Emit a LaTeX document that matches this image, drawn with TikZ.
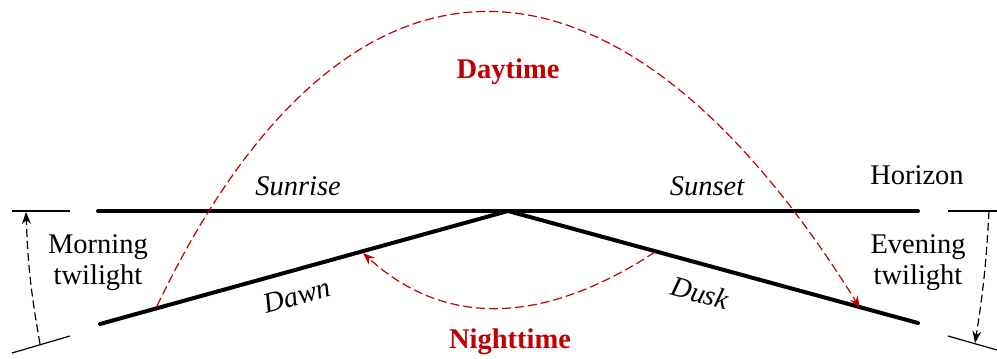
\documentclass[tikz,border=0pt]{standalone}
\usepackage{fontspec}
\setmainfont{Liberation Serif}
\usetikzlibrary{arrows.meta}
\definecolor{dred}{RGB}{192,0,0}
\begin{document}
\begin{tikzpicture}[x=1pt,y=-1pt,
  thickline/.style={line width=4pt,line cap=round},
  thinline/.style={line width=1.2pt},
  reddash/.style={dred,line width=1.2pt,dash pattern=on 9pt off 4pt,-{Stealth[length=12pt,width=9pt]}},
  blackdash/.style={black,line width=1.2pt,dash pattern=on 8pt off 4pt,-{Stealth[length=12pt,width=9pt]}},
  lab/.style={font=\fontsize{28.5}{31}\selectfont,inner sep=0pt},
  ilab/.style={font=\fontsize{28.5}{31}\selectfont\itshape,inner sep=0pt},
  blab/.style={font=\fontsize{28.5}{31}\selectfont\bfseries,text=dred,inner sep=0pt}]
\useasboundingbox (0,0) rectangle (997,359);
% main lines
\coordinate (hl) at (98,211);
\coordinate (hr) at (918,211);
\coordinate (apex) at (508,211);
\coordinate (ll) at (100,324);
\coordinate (rl) at (918,323);
\draw[thickline] (hl) -- (hr);
\draw[thickline] (ll) -- (apex) -- (rl);
% left twilight markers
\coordinate (lt1) at (12,211); \coordinate (lt2) at (70,211);
\coordinate (lb1) at (12,353); \coordinate (lb2) at (70,336);
\draw[thinline] (lt1) -- (lt2);
\draw[thinline] (lb1) -- (lb2);
\coordinate (la0) at (40,344); \coordinate (la1) at (26,212);
\draw[blackdash] (la0) to[bend left=4] (la1);
% right twilight markers
\coordinate (rt1) at (948,211); \coordinate (rt2) at (997,211);
\coordinate (rb1) at (948,336); \coordinate (rb2) at (997,350);
\draw[thinline] (rt1) -- (rt2);
\draw[thinline] (rb1) -- (rb2);
\coordinate (ra0) at (989,211); \coordinate (ra1) at (975,343);
\draw[blackdash] (ra0) to[bend left=3] (ra1);
% red arcs
\coordinate (d0) at (157,306); \coordinate (d1) at (860,308);
\draw[reddash] (d0) .. controls (345,-86) and (615,-86) .. (d1);
\coordinate (n0) at (655,252); \coordinate (n1) at (363,253);
\draw[reddash] (n0) .. controls (542,326) and (444,327) .. (n1);
% labels
\node[lab] (horizon) at (917,175) {Horizon};
\node[ilab] (sunrise) at (298,186) {Sunrise};
\node[ilab] (sunset) at (707,186) {Sunset};
\node[lab,align=center] (morning) at (98,263) {Morning\\twilight};
\node[lab,align=center] (evening) at (918,263) {Evening\\twilight};
\node[blab] (day) at (508,72) {Daytime};
\node[blab] (night) at (510,342) {Nighttime};
\node[ilab,rotate=15.5] (dawn) at (297,296) {Dawn};
\node[ilab,rotate=-15] (dusk) at (700,293) {Dusk};
\end{tikzpicture}
\end{document}
